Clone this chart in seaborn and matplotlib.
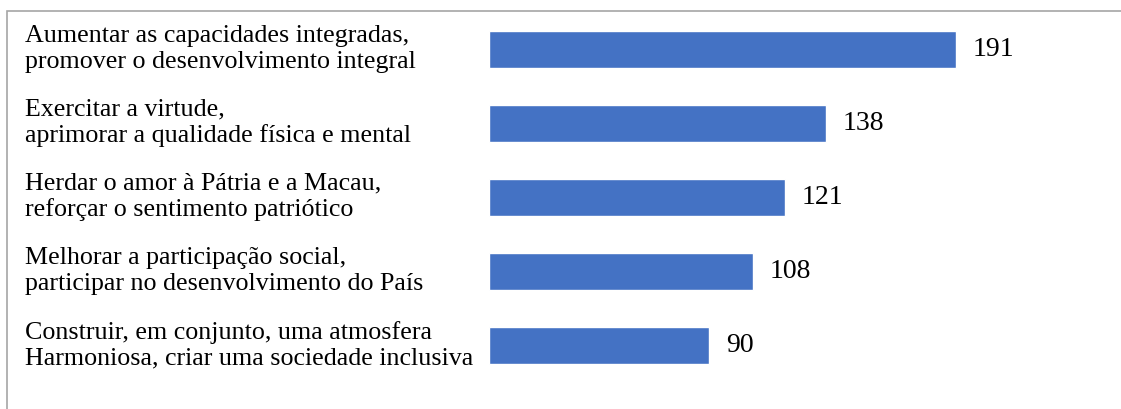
import matplotlib
matplotlib.use("Agg")
import matplotlib.pyplot as plt
import matplotlib.transforms as mtransforms
from matplotlib.patches import Rectangle
import seaborn as sns

# dados do gráfico
categorias = [
    "Aumentar as capacidades integradas,\npromover o desenvolvimento integral",
    "Exercitar a virtude,\naprimorar a qualidade física e mental",
    "Herdar o amor à Pátria e a Macau,\nreforçar o sentimento patriótico",
    "Melhorar a participação social,\nparticipar no desenvolvimento do País",
    "Construir, em conjunto, uma atmosfera\nHarmoniosa, criar uma sociedade inclusiva",
]
valores = [191, 138, 121, 108, 90]

COR_BARRA = "#4472C4"

sns.set_theme(style="white")
plt.rcParams["font.family"] = ["Liberation Serif", "DejaVu Serif"]

W, H = 1121, 409
fig = plt.figure(figsize=(W / 100, H / 100), dpi=100)
ax = fig.add_axes([0, 0, 1, 1])

sns.barplot(x=valores, y=list(range(len(valores))), orient="h", color=COR_BARRA,
            saturation=1, width=0.5, ax=ax, native_scale=True)

# escala: barras começam no pixel 489, ~2.445 px por unidade, 74 px entre barras
px_por_unid = (956 - 489) / 191
ax.set_xlim(-489 / px_por_unid, (W - 489) / px_por_unid)
ax.set_ylim((H - 49) / 74, -49 / 74)
ax.axis("off")

# rótulos das categorias, alinhados à esquerda
trans = mtransforms.blended_transform_factory(ax.transAxes, ax.transData)
for i, cat in enumerate(categorias):
    ax.text(25 / W, i, cat, transform=trans, ha="left", va="center",
            fontsize=18.7, color="black", linespacing=1.2)

# valores ao lado das barras
ax.bar_label(ax.containers[0], labels=[str(v) for v in valores], padding=12,
             fontsize=20, color="black")

# moldura cinza
fig.patches.append(Rectangle((7 / W, -0.5), 2, 1.5 - 11 / H, transform=fig.transFigure,
                             fill=False, edgecolor="#a6a6a6", linewidth=1.2))

fig.savefig("out.png", dpi=100)
